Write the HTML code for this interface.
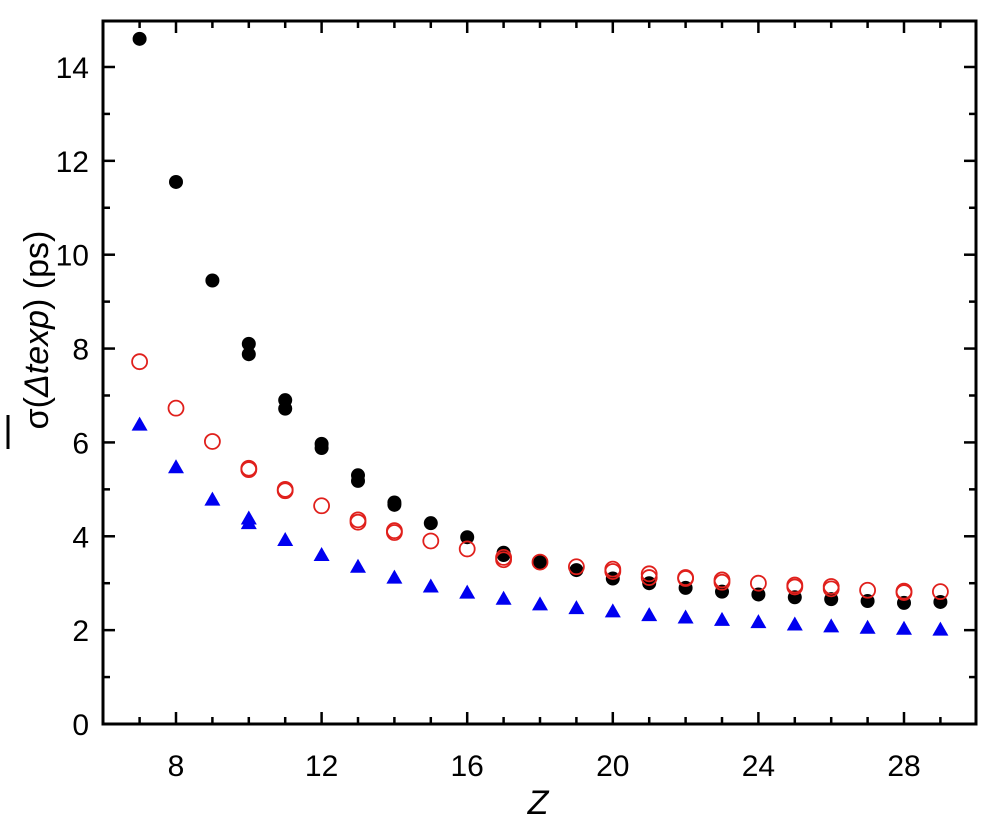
<!DOCTYPE html>
<html><head><style>body{margin:0;background:#fff}svg{display:block}</style></head><body>
<svg width="1008" height="838" xmlns="http://www.w3.org/2000/svg" font-family="Liberation Sans, sans-serif">
<g id="data"></g>
<rect x="103" y="21" width="873" height="703" fill="none" stroke="#000" stroke-width="3"/>
<g id="ticks" stroke="#000" stroke-width="2.5"></g>
<g id="labels" font-size="30" fill="#000"></g>
<text x="538" y="814" font-size="34" font-style="italic" text-anchor="middle">Z</text>
<text transform="translate(48,330) rotate(-90)" font-size="34" text-anchor="middle">σ(<tspan font-style="italic">Δtexp</tspan>) (ps)</text>
<line x1="8" y1="449" x2="8" y2="415" stroke="#000" stroke-width="3"/>
<script>
const X=z=>139.6+(z-7)*36.4, Y=v=>724-v*46.93;
const NS="http://www.w3.org/2000/svg";
function el(p,t,a){const e=document.createElementNS(NS,t);for(const k in a)e.setAttribute(k,a[k]);p.appendChild(e);return e;}
const d=document.getElementById('data'),tk=document.getElementById('ticks'),lb=document.getElementById('labels');
const black=[[7,14.6],[8,11.55],[9,9.45],[10,8.1],[10,7.88],[11,6.9],[11,6.72],[12,5.97],[12,5.88],[13,5.3],[13,5.18],[14,4.72],[14,4.67],[15,4.28],[16,3.98],[17,3.65],[17,3.6],[18,3.45],[19,3.28],[20,3.1],[21,3.0],[22,2.9],[23,2.82],[24,2.76],[25,2.7],[26,2.66],[27,2.62],[28,2.58],[29,2.6]];
const red=[[7,7.72],[8,6.73],[9,6.02],[10,5.45],[10,5.42],[11,5.0],[11,4.97],[12,4.65],[13,4.35],[13,4.3],[14,4.12],[14,4.08],[15,3.9],[16,3.73],[17,3.55],[17,3.5],[18,3.45],[19,3.35],[20,3.3],[20,3.25],[21,3.2],[21,3.12],[22,3.12],[22,3.1],[23,3.07],[23,3.02],[24,3.0],[25,2.96],[25,2.92],[26,2.93],[26,2.88],[27,2.85],[28,2.83],[28,2.8],[29,2.82]];
const blue=[[7,6.38],[8,5.47],[9,4.78],[10,4.38],[10,4.28],[11,3.92],[12,3.6],[13,3.35],[14,3.12],[15,2.93],[16,2.8],[17,2.67],[18,2.55],[19,2.47],[20,2.4],[21,2.32],[22,2.27],[23,2.22],[24,2.17],[25,2.12],[26,2.08],[27,2.05],[28,2.03],[29,2.01]];
black.forEach(([z,v])=>el(d,'circle',{cx:X(z),cy:Y(v),r:7,fill:'#000'}));
red.forEach(([z,v])=>el(d,'circle',{cx:X(z),cy:Y(v),r:7.5,fill:'none',stroke:'#e0201c','stroke-width':1.8}));
blue.forEach(([z,v])=>{const x=X(z),y=Y(v);el(d,'polygon',{points:`${x},${y-8} ${x-8},${y+6} ${x+8},${y+6}`,fill:'#0000f0'});});
for(let v=0;v<=14;v++){const y=Y(v),L=v%2?7:12;
 el(tk,'line',{x1:103,y1:y,x2:103+L,y2:y});el(tk,'line',{x1:976,y1:y,x2:976-L,y2:y});
 if(v%2==0){const t=el(lb,'text',{x:89,y:y+11,'text-anchor':'end'});t.textContent=v;}}
for(let z=7;z<=29;z++){const x=X(z),L=z%4?7:12;
 el(tk,'line',{x1:x,y1:724,x2:x,y2:724-L});el(tk,'line',{x1:x,y1:21,x2:x,y2:21+L});
 if(z%4==0){const t=el(lb,'text',{x:x,y:776,'text-anchor':'middle'});t.textContent=z;}}
</script>
</svg>
</body></html>
